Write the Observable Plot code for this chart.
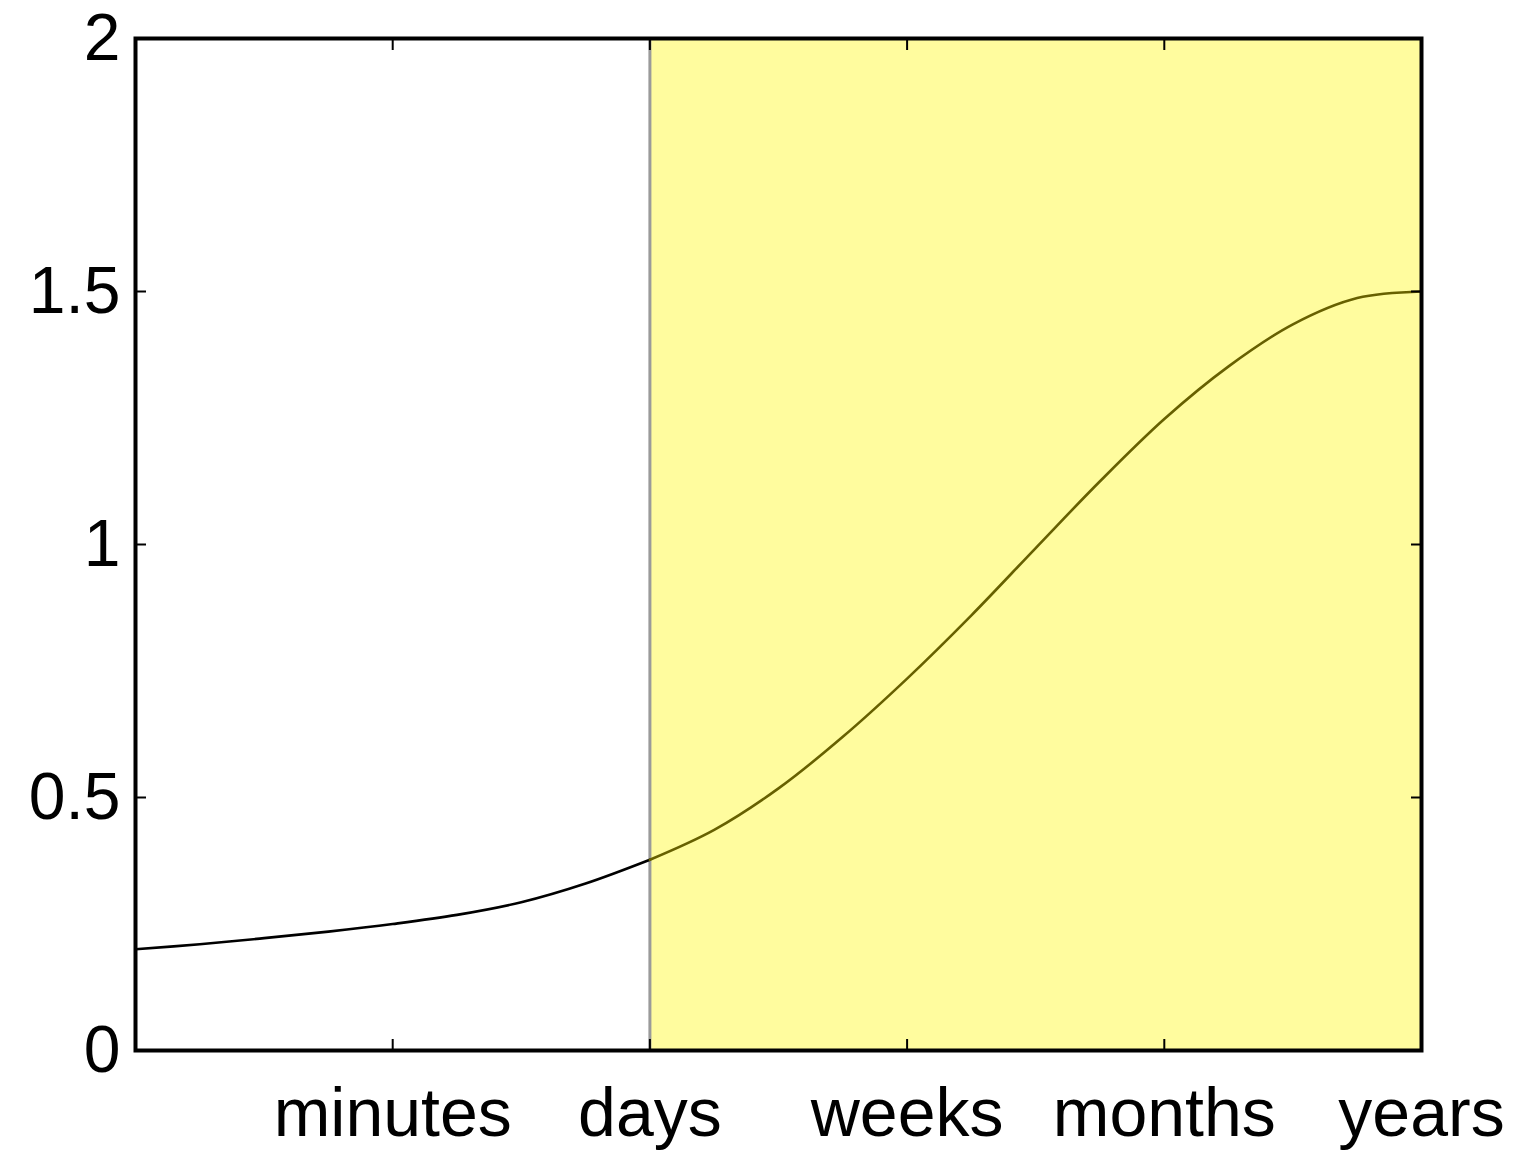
<!DOCTYPE html>
<html>
<head>
<meta charset="utf-8">
<script src="https://cdn.jsdelivr.net/npm/d3@7"></script>
<script src="https://cdn.jsdelivr.net/npm/@observablehq/plot@0.6"></script>
<style>
  html, body { margin: 0; padding: 0; background: #fff; }
  #chart { width: 1517px; height: 1155px; }
  svg { font-family: "Liberation Sans", Arial, sans-serif; }
</style>
</head>
<body>
<div id="chart"></div>
<script>
// Time-scale categories (tick positions 1..5 on a 0..5 axis)
const tickPositions = [1, 2, 3, 4, 5];
const tickLabels = ["minutes", "days", "weeks", "months", "years"];
const yTicks = [0, 0.5, 1, 1.5, 2];

// Curve
const curveX = [0, 0.25, 0.5, 0.75, 1.0, 1.25, 1.5, 1.75, 2.0, 2.25, 2.5, 2.75, 3.0, 3.25, 3.5, 3.75, 4.0, 4.25, 4.5, 4.75, 5.0];
const curveY = [0.200, 0.210, 0.222, 0.235, 0.250, 0.268, 0.293, 0.330, 0.377, 0.436, 0.518, 0.620, 0.735, 0.860, 0.993, 1.125, 1.248, 1.352, 1.435, 1.487, 1.500];

// Shaded band (days -> years)
const bandStart = [2];
const bandEnd = [5];

const curve = curveX.map((x, i) => ({x, y: curveY[i]}));
const band = bandStart.map((s, i) => ({x1: s, x2: bandEnd[i]}));

const chart = Plot.plot({
  width: 1517,
  height: 1155,
  marginLeft: 135,
  marginRight: 96,
  marginTop: 38,
  marginBottom: 105,
  style: {fontFamily: "'Liberation Sans', Arial, sans-serif", background: "#fff"},
  x: {domain: [0, 5]},
  y: {domain: [0, 2]},
  marks: [
    Plot.rect(band, {x1: "x1", x2: "x2", y1: 0, y2: 2, fill: "#fffc9e"}),
    Plot.ruleX(bandStart, {stroke: "#9a9a9a", strokeWidth: 3}),
    Plot.line(curve.filter(d => d.x <= 2), {x: "x", y: "y", stroke: "#000", strokeWidth: 2.6, curve: "catmull-rom"}),
    Plot.line(curve.filter(d => d.x >= 2), {x: "x", y: "y", stroke: "#676000", strokeWidth: 2.6, curve: "catmull-rom"}),
    // inward ticks on all four sides
    Plot.axisX(tickPositions, {anchor: "bottom", tickSize: -11, text: null, label: null, stroke: "#000", strokeWidth: 2}),
    Plot.axisX(tickPositions, {anchor: "top", tickSize: -11, text: null, label: null, stroke: "#000", strokeWidth: 2}),
    Plot.axisY(yTicks, {anchor: "left", tickSize: -11, text: null, label: null, stroke: "#000", strokeWidth: 2}),
    Plot.axisY(yTicks, {anchor: "right", tickSize: -11, text: null, label: null, stroke: "#000", strokeWidth: 2}),
    // labels
    Plot.axisX(tickPositions, {anchor: "bottom", tickSize: 0, tickPadding: 37, fontSize: 68, fill: "#000",
      tickFormat: d => tickLabels[tickPositions.indexOf(d)], label: null}),
    Plot.axisY(yTicks, {anchor: "left", tickSize: 0, tickPadding: 15, fontSize: 66, fill: "#000",
      tickFormat: d => String(d), label: null}),
    Plot.frame({stroke: "#000", strokeWidth: 4})
  ]
});
document.getElementById("chart").appendChild(chart);
</script>
</body>
</html>
